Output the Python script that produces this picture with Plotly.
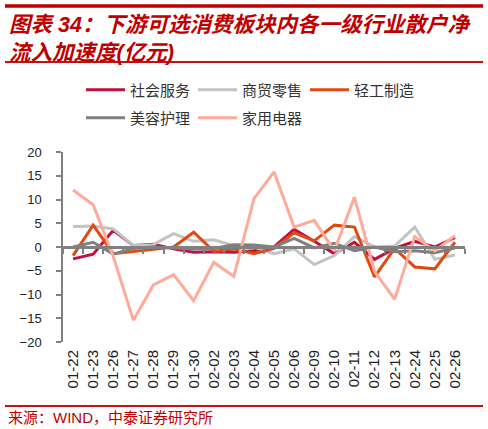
import base64
import plotly.graph_objects as go

categories = ["01-22", "01-23", "01-26", "01-27", "01-28", "01-29", "01-30",
              "02-02", "02-03", "02-04", "02-05", "02-06", "02-09", "02-10",
              "02-11", "02-12", "02-13", "02-24", "02-25", "02-26"]

social_services = [-2.5, -1.5, 3.5, 0.3, 0.6, -0.4, -1.1, -1.0, -1.1, -0.8,
                   0.0, 3.7, 1.2, -1.4, 1.0, -2.6, -0.3, 1.2, 0.0, 2.0]
retail = [4.3, 4.4, 3.8, 0.3, 0.5, 2.8, 1.2, 1.5, 0.3, 0.0,
          -1.4, -0.4, -3.7, -1.8, 2.2, 0.0, 0.2, 4.2, -2.6, -1.7]
light_industry = [-1.8, 4.6, -1.4, -1.0, -0.5, 0.0, 3.1, -0.9, -0.4, -1.4,
                  -0.3, 3.0, 1.3, 4.6, 4.2, -6.3, -0.3, -4.2, -4.6, 1.0]
beauty_care = [0.0, 1.0, -1.5, -0.3, 0.0, -0.2, -0.4, -0.3, 0.5, 0.4,
               0.0, 1.8, -0.2, 0.8, -0.8, 0.0, -1.0, -0.8, -1.2, -0.2]
home_appliances = [12.0, 8.9, -2.0, -15.4, -8.0, -5.8, -11.3, -3.2, -6.2, 10.2,
                   15.8, 4.2, 5.6, -0.8, 10.5, -5.2, -11.0, 2.2, -0.8, 2.4]

series = [
    ("社会服务", social_services, "#C0103F", "legend"),
    ("商贸零售", retail, "#C3C3C3", "legend"),
    ("轻工制造", light_industry, "#E04A12", "legend"),
    ("美容护理", beauty_care, "#7F7F7F", "legend2"),
    ("家用电器", home_appliances, "#FFAA9A", "legend2"),
]

W, H = 488, 429
# plot area in pixels (left, right, top, bottom)
PL, PR, PT, PB = 63, 465, 152, 342

def fx(x):
    return x / W

def fy(y):
    return 1 - y / H

CJK = "Noto Sans CJK SC"
LAT = "Liberation Sans, Arial, " + CJK

fig = go.Figure()
for name, vals, color, lg in series:
    fig.add_trace(go.Scatter(
        x=categories, y=vals, name=name, mode="lines",
        line=dict(color=color, width=3), legend=lg,
        hoverinfo="x+y+name",
    ))

# helper trace for the zero-line axis with boundary ticks
fig.add_trace(go.Scatter(x=categories, y=[None] * len(categories), xaxis="x2",
                         showlegend=False, hoverinfo="skip", mode="lines"))

legend_common = dict(
    orientation="h", xref="container", yref="container",
    xanchor="left", yanchor="middle",
    font=dict(family=CJK, size=15, color="#333333"),
    itemwidth=39, entrywidthmode="pixels", entrywidth=58,
    bgcolor="rgba(0,0,0,0)", borderwidth=0, tracegroupgap=0,
)

ymin, ymax = -20, 20
zero_pos = fy(PB) + (0 - ymin) / (ymax - ymin) * (fy(PT) - fy(PB))

# decorative red rules of the report template: (centre y in px, thickness)
rules = [(6, 3), (62, 1.5), (406, 1.5)]
svg_rules = "".join(
    f'<line x1="5" x2="483" y1="{yy}" y2="{yy}" stroke="#C00000" stroke-width="{lw}"/>'
    for yy, lw in rules
)
svg = (f'<svg xmlns="http://www.w3.org/2000/svg" width="{W}" height="{H}" '
       f'viewBox="0 0 {W} {H}">{svg_rules}</svg>')
svg_uri = "data:image/svg+xml;base64," + base64.b64encode(svg.encode()).decode()

fig.update_layout(
    width=W, height=H,
    margin=dict(l=0, r=0, t=0, b=0, autoexpand=False),
    paper_bgcolor="white", plot_bgcolor="white",
    legend=dict(x=81 / W, y=1 - 90 / H, **legend_common),
    legend2=dict(x=81 / W, y=1 - 118 / H, **legend_common),
    images=[dict(source=svg_uri, xref="paper", yref="paper", x=0, y=1,
                 sizex=1, sizey=1, sizing="stretch", xanchor="left", yanchor="top",
                 layer="above")],
    xaxis=dict(
        domain=[fx(PL), fx(PR)],
        type="category", range=[-0.5, len(categories) - 0.5],
        showline=False, showgrid=False, zeroline=False, ticks="",
        tickangle=-90, ticklabelstandoff=4,
        tickfont=dict(family=LAT, size=15, color="#222222"),
    ),
    xaxis2=dict(
        domain=[fx(PL), fx(PR)],
        type="category", overlaying="x", anchor="free", position=zero_pos,
        range=[-0.5, len(categories) - 0.5], side="bottom",
        showline=True, linecolor="#808080", linewidth=2.5,
        ticks="outside", tickson="boundaries", ticklen=5, tickwidth=1.5,
        tickcolor="#808080", showticklabels=False, showgrid=False, zeroline=False,
    ),
    yaxis=dict(
        domain=[fy(PB), fy(PT)],
        range=[ymin, ymax], dtick=5, tick0=0,
        showline=True, linecolor="#808080", linewidth=1.5,
        ticks="outside", ticklen=5, tickwidth=1.5, tickcolor="#808080",
        showgrid=False, zeroline=False, ticklabelstandoff=12,
        tickfont=dict(family=LAT, size=13, color="#222222"),
    ),
    annotations=[
        dict(text="<b><i>图表 34：下游可选消费板块内各一级行业散户净<br>流入加速度(亿元)</i></b>",
             xref="paper", yref="paper", x=fx(7), y=fy(11),
             xanchor="left", yanchor="top", align="left", showarrow=False,
             font=dict(family=LAT, size=21.5, color="#C00000")),
        dict(text="来源：WIND，中泰证券研究所", xref="paper", yref="paper",
             x=fx(6), y=fy(417), xanchor="left", yanchor="middle", showarrow=False,
             font=dict(family=LAT, size=15, color="#C00000")),
    ],
)

for yy, lw in rules:
    fig.add_shape(type="line", xref="paper", yref="paper",
                  x0=fx(5), x1=fx(483), y0=fy(yy), y1=fy(yy),
                  line=dict(color="#C00000", width=lw))

fig.write_html(
    "out.html", config={"displayModeBar": False},
    post_script="document.body.style.margin='0'; Plotly.relayout('{plot_id}', {});",
)
